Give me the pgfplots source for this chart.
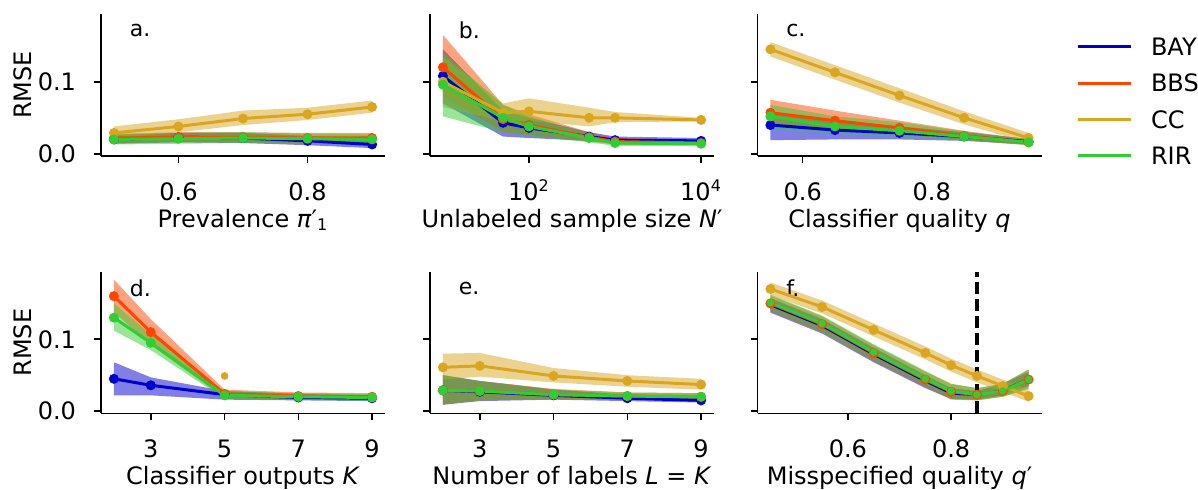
\documentclass[border=0pt]{standalone}
\usepackage{fontspec}
\setmainfont{DejaVu Sans}
\usepackage{pgfplots}
\pgfplotsset{compat=1.18}
\usepgfplotslibrary{fillbetween}
\usepackage{pgfplotstable}

\definecolor{cBAY}{HTML}{0000CD}
\definecolor{cBBS}{HTML}{FF4500}
\definecolor{cCC}{HTML}{DAA520}
\definecolor{cRIR}{HTML}{32CD32}

\pgfplotstableread{
x bay bayl bayh bbs bbsl bbsh cc ccl cch rir rirl rirh
0.5 0.020 0.014 0.026 0.022 0.015 0.028 0.029 0.022 0.038 0.020 0.013 0.027
0.6 0.023 0.016 0.029 0.023 0.016 0.030 0.038 0.030 0.048 0.021 0.014 0.029
0.7 0.022 0.015 0.029 0.023 0.016 0.030 0.049 0.040 0.060 0.022 0.015 0.030
0.8 0.018 0.012 0.025 0.022 0.015 0.029 0.055 0.047 0.064 0.021 0.014 0.028
0.9 0.013 0.008 0.019 0.022 0.015 0.029 0.065 0.057 0.074 0.020 0.013 0.027
}\tA
\pgfplotstableread{
x bay bayl bayh bbs bbsl bbsh cc ccl cch rir rirl rirh
10 0.108 0.070 0.145 0.120 0.080 0.165 0.100 0.065 0.135 0.096 0.052 0.140
50 0.043 0.024 0.060 0.048 0.030 0.068 0.057 0.045 0.070 0.050 0.030 0.068
100 0.036 0.022 0.050 0.040 0.026 0.055 0.059 0.046 0.077 0.038 0.025 0.052
500 0.024 0.018 0.030 0.023 0.017 0.030 0.050 0.038 0.064 0.022 0.016 0.028
1000 0.019 0.015 0.024 0.017 0.013 0.022 0.050 0.044 0.058 0.015 0.011 0.020
10000 0.018 0.014 0.022 0.015 0.012 0.019 0.047 0.045 0.050 0.014 0.011 0.018
}\tB
\pgfplotstableread{
x bay bayl bayh bbs bbsl bbsh cc ccl cch rir rirl rirh
0.55 0.040 0.019 0.055 0.057 0.038 0.075 0.145 0.135 0.155 0.052 0.035 0.068
0.65 0.033 0.020 0.046 0.046 0.032 0.060 0.113 0.103 0.123 0.038 0.028 0.052
0.75 0.029 0.020 0.038 0.036 0.027 0.046 0.081 0.071 0.091 0.032 0.024 0.044
0.85 0.024 0.018 0.030 0.025 0.019 0.032 0.050 0.041 0.059 0.024 0.019 0.031
0.95 0.017 0.013 0.021 0.016 0.012 0.020 0.022 0.015 0.029 0.016 0.012 0.020
}\tC
\pgfplotstableread{
x bay bayl bayh bbs bbsl bbsh rir rirl rirh
2 0.045 0.022 0.068 0.160 0.138 0.183 0.130 0.112 0.150
3 0.036 0.022 0.047 0.110 0.092 0.128 0.095 0.085 0.107
5 0.023 0.016 0.028 0.024 0.018 0.030 0.022 0.017 0.028
7 0.019 0.015 0.024 0.021 0.016 0.026 0.020 0.016 0.025
9 0.018 0.014 0.022 0.020 0.016 0.025 0.019 0.015 0.024
}\tD
\pgfplotstableread{
x bay bayl bayh bbs bbsl bbsh cc ccl cch rir rirl rirh
2 0.029 0.009 0.050 0.029 0.009 0.050 0.061 0.044 0.080 0.029 0.009 0.050
3 0.027 0.014 0.042 0.028 0.015 0.042 0.063 0.048 0.081 0.028 0.015 0.042
5 0.022 0.016 0.030 0.023 0.017 0.031 0.049 0.040 0.060 0.023 0.017 0.030
7 0.018 0.014 0.023 0.021 0.016 0.026 0.042 0.034 0.050 0.021 0.016 0.026
9 0.015 0.012 0.019 0.020 0.016 0.025 0.037 0.030 0.045 0.020 0.016 0.025
}\tE
\pgfplotstableread{
x bay bayl bayh bbs bbsl bbsh cc ccl cch rir rirl rirh
0.45 0.147 0.137 0.157 0.150 0.139 0.161 0.170 0.161 0.179 0.151 0.140 0.162
0.55 0.118 0.108 0.128 0.121 0.110 0.132 0.145 0.136 0.154 0.122 0.110 0.133
0.65 0.078 0.068 0.088 0.081 0.070 0.092 0.113 0.104 0.122 0.082 0.071 0.093
0.75 0.041 0.032 0.050 0.044 0.034 0.055 0.081 0.072 0.090 0.045 0.035 0.056
0.80 0.024 0.017 0.032 0.027 0.016 0.038 0.064 0.055 0.073 0.028 0.017 0.038
0.85 0.022 0.016 0.028 0.023 0.015 0.032 0.049 0.040 0.058 0.023 0.015 0.032
0.90 0.030 0.022 0.038 0.028 0.020 0.038 0.035 0.027 0.044 0.028 0.020 0.038
0.95 0.045 0.035 0.055 0.044 0.031 0.058 0.021 0.013 0.030 0.044 0.032 0.058
}\tF

% band + line
\newcommand{\series}[4][]{%
  \addplot[name path=lo#3, draw=none, forget plot] table[x=x,y=#3l]{#2};
  \addplot[name path=hi#3, draw=none, forget plot] table[x=x,y=#3h]{#2};
  \addplot[fill=#4, fill opacity=0.5, draw=none, forget plot] fill between[of=lo#3 and hi#3];
  \addplot[#4, line width=1.5pt, mark=*, mark size=1.7pt, mark options={solid}, forget plot, #1] table[x=x,y=#3]{#2};
}
\newcommand{\allseries}[1]{%
  \series{#1}{bay}{cBAY}
  \series{#1}{bbs}{cBBS}
  \series{#1}{cc}{cCC}
  \series{#1}{rir}{cRIR}
}

\newcommand{\twelve}{\fontsize{12}{14.4}\selectfont}
\tikzset{plab/.style={anchor=west, inner sep=0pt, font=\fontsize{11}{13}\selectfont}}

\pgfplotsset{
  panel/.style={
    scale only axis, width=142pt, height=71pt,
    anchor=south west,
    axis x line*=bottom, axis y line*=left,
    ymin=-0.003, ymax=0.194, ytick={0,0.1},
    tick align=outside, major tick length=3.5pt,
    axis line style={line width=0.8pt, black},
    tick style={line width=0.8pt, black},
    xticklabel style={font=\twelve, anchor=base, inner sep=0pt, yshift=-18.8pt},
    yticklabel style={font=\twelve, anchor=east, inner sep=0pt, xshift=-8.8pt,
      /pgf/number format/.cd, fixed, fixed zerofill, precision=1},
    /pgf/number format/assume math mode=true,
    every axis x label/.style={at={(axis description cs:0.5,0)}, anchor=base, yshift=-35.5pt, font=\twelve},
    every axis y label/.style={at={(axis description cs:-0.276,0.5)}, rotate=90, anchor=center, font=\twelve},
    clip=false,
  },
}

\begin{document}
\twelve
\begin{tikzpicture}

% a
\begin{axis}[panel, at={(50.5pt,-78pt)}, xmin=0.48, xmax=0.92, xtick={0.6,0.8},
  xticklabel style={/pgf/number format/.cd, fixed, fixed zerofill, precision=1},
  ylabel={RMSE}, xlabel={Prevalence \textit{π}′\textsubscript{1}}]
\allseries{\tA}
\node[plab] at (rel axis cs:0.1,0.884) {a.};
\end{axis}

% b
\begin{axis}[panel, at={(215pt,-78pt)}, xmode=log, xmin=7.08, xmax=14125,
  xtick={100,10000}, xticklabels={10\textsuperscript{2},10\textsuperscript{4}}, xminorticks=false,
  yticklabels={}, xlabel={Unlabeled sample size \textit{N}′}]
\allseries{\tB}
\node[plab] at (rel axis cs:0.1,0.884) {b.};
\end{axis}

% c
\begin{axis}[panel, at={(378.75pt,-78pt)}, xmin=0.53, xmax=0.97, xtick={0.6,0.8},
  xticklabel style={/pgf/number format/.cd, fixed, fixed zerofill, precision=1},
  yticklabels={}, xlabel={Classifier quality \textit{q}},
  legend style={draw=none, fill=none, inner sep=0pt, outer sep=0pt, at={(1,1)}, anchor=north west,
    xshift=17.25pt, yshift=-11.98pt, row sep=9.45pt, column sep=9.5pt,
    nodes={inner sep=0pt, text height=8.75pt, text depth=0pt},
    font=\twelve},
  legend cell align=left,
  legend image code/.code={\draw[#1, line width=1.5pt] (0pt,0pt) -- (26.5pt,0pt);}]
\allseries{\tC}
\node[plab] at (rel axis cs:0.1,0.884) {c.};
\addlegendimage{cBAY}\addlegendentry{BAY}
\addlegendimage{cBBS}\addlegendentry{BBS}
\addlegendimage{cCC}\addlegendentry{CC}
\addlegendimage{cRIR}\addlegendentry{RIR}
\end{axis}

% d
\begin{axis}[panel, at={(50.5pt,-206.65pt)}, height=70.8pt, xmin=1.65, xmax=9.35, xtick={3,5,7,9},
  ylabel={RMSE}, xlabel={Classifier outputs \textit{K}}]
\series{\tD}{bay}{cBAY}
\series{\tD}{bbs}{cBBS}
\addplot[cCC, only marks, mark=*, mark size=1.7pt, forget plot] coordinates {(5,0.049)};
\series{\tD}{rir}{cRIR}
\node[plab] at (rel axis cs:0.1,0.884) {d.};
\end{axis}

% e
\begin{axis}[panel, at={(215pt,-206.65pt)}, height=70.8pt, xmin=1.65, xmax=9.35, xtick={3,5,7,9},
  yticklabels={}, xlabel={Number of labels \textit{L} = \textit{K}}]
\allseries{\tE}
\node[plab] at (rel axis cs:0.1,0.884) {e.};
\end{axis}

% f
\begin{axis}[panel, at={(378.75pt,-206.65pt)}, height=70.8pt, xmin=0.425, xmax=0.975, xtick={0.6,0.8},
  xticklabel style={/pgf/number format/.cd, fixed, fixed zerofill, precision=1},
  yticklabels={}, xlabel={Misspecified quality \textit{q}′}]
\node[plab] at (rel axis cs:0.1,0.884) {f.};
\series[line width=0.7pt, mark size=0.8pt]{\tF}{bay}{cBAY}
\series{\tF}{bbs}{cBBS}
\series{\tF}{cc}{cCC}
\series[mark size=1.1pt]{\tF}{rir}{cRIR}
\addplot[black, line width=1.6pt, dash pattern=on 6pt off 2.5pt, forget plot] coordinates {(0.85,-0.003) (0.85,0.194)};
\end{axis}

\pgfresetboundingbox
\useasboundingbox (0,0) rectangle (599pt,-244.5pt);
\end{tikzpicture}
\end{document}
